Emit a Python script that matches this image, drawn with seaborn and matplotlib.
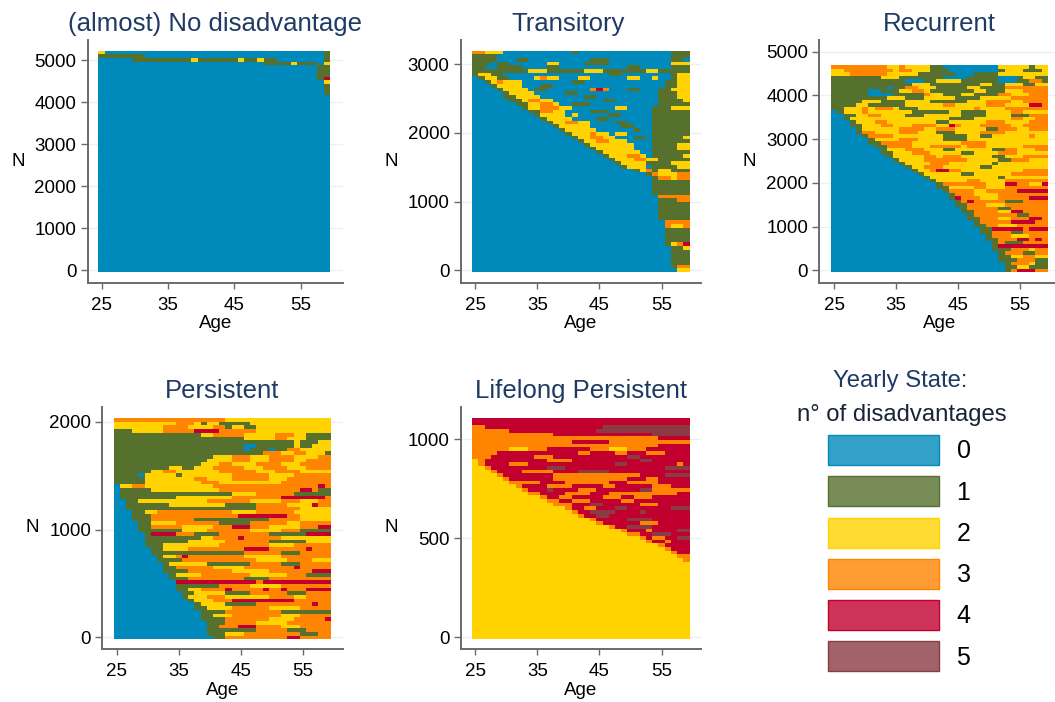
import matplotlib
matplotlib.use("Agg")
import matplotlib.pyplot as plt
from matplotlib.colors import ListedColormap, to_rgba
from matplotlib.patches import Patch
import numpy as np
import seaborn as sns

# each row is one band of sequences, top to bottom: first state, then state@age where it changes
no_disadvantage = [
    "2 0@26 1@59",
    "1 0@32 1@59",
    "0 1@30 2@39 1@40 2@46 1@47 2@49 1@50 0@52 1@59",
    "0 1@50 2@54 1@55 0@58 2@59",
    "0 1@58", "0 1@58", "0 1@58",
    "0 1@58 4@59",
    "0 2@59",
    "0 1@59", "0 1@59", "0 1@59",
] + ["0"] * 48

transitory = [
    "3 2@27 0@30 1@41 0@42 1@57",
    "1 0@29 1@57",
    "1 0@29 1@32 0@34 1@44 0@47 1@57 0@59",
    "1 0@28 1@29 0@31 2@37 0@39 1@43 0@47 2@57",
    "1 0@27 1@29 0@33 1@37 0@39 1@50 0@52 1@57",
    "1 2@34 1@37 2@43 1@46 2@53 1@55",
    "1 2@26 1@28 0@30 1@47 0@49 1@57 2@58",
    "0 1@26 2@27 1@29 0@31 2@35 3@36 2@37 0@39 2@42 0@44 2@50 0@52 2@54 0@55 1@57 2@58",
    "0 1@27 2@28 3@29 2@30 0@33 1@41 0@43 1@56 2@58",
    "0 1@28 2@29 0@33 1@36 0@38 1@56 2@58",
    "0 1@29 2@30 0@34 1@35 0@37 3@44 4@45 3@46 0@47 1@50 0@52 1@55 2@57",
    "0 1@30 2@31 0@35 1@40 0@42 1@55 2@58",
    "0 1@30 2@32 0@36 1@43 0@45 1@55 2@58",
    "0 1@31 2@33 3@34 2@36 0@38 1@46 0@48 1@55 2@59",
    "0 1@32 2@34 3@36 2@38 0@39 1@41 0@44 1@55",
    "0 1@33 2@34 3@36 2@39 0@41 2@48 0@50 1@54 2@57",
    "0 1@34 3@36 2@38 0@40 1@44 0@47 1@54",
    "0 1@35 2@36 0@40 2@41 0@42 1@47 0@49 1@54",
    "0 1@36 2@37 0@41 1@45 0@47 1@54",
    "0 1@37 2@38 3@40 2@42 0@44 1@48 0@50 1@54",
    "0 1@38 2@39 0@44 1@49 0@51 1@54",
    "0 1@39 2@40 0@45 1@51 0@52 1@54",
    "0 1@40 2@41 3@44 2@45 0@47 2@48 0@50 1@54",
    "0 1@41 2@42 3@44 2@46 0@48 1@51 0@53 1@54 2@59",
    "0 1@42 2@43 3@45 2@47 0@50 1@54",
    "0 1@43 2@44 0@51 1@54 2@58",
    "0 1@44 2@45 0@51 1@54 2@58",
    "0 1@45 2@46 0@52 1@54",
    "0 1@46 2@47 3@50 2@52 0@53 1@54 2@59",
    "0 1@47 2@48 3@51 2@53 1@55",
    "0 1@48 2@49 1@53 2@57",
    "0 1@49 2@50 0@53 1@54 2@58",
    "0 1@51 2@52 3@53 1@54 2@55 1@57",
    "0 1@53 3@54 2@55 3@58",
    "0 1@54 3@55 2@57 3@58",
    "0 1@54", "0 1@54", "0 1@54", "0 1@54",
    "0 3@55",
    "0 1@55 3@58",
    "0 1@55", "0 1@55", "0 1@55", "0 1@55", "0 1@55",
    "0 3@56",
    "0 3@56 2@57 3@59",
    "0 1@56", "0 1@56", "0 1@56", "0 1@56",
    "0 1@56 2@57 3@58 4@59",
    "0 1@57 2@59",
    "0 1@57", "0 1@57", "0 1@57", "0 1@57",
    "0 1@57 3@58",
    "0 2@58",
]

recurrent = [
    "3 2@34 3@36 2@37 1@41 0@43 2@52 1@57 2@58",
    "2 3@27 2@35 3@36 2@38 1@41 0@44 1@52 2@53 1@56 2@59",
    "2 3@28 2@34 1@39 0@45 1@48 2@52",
    "1 2@33 1@36 0@43 1@47 0@52 1@55 2@56 1@58",
    "1 0@37 1@40 2@42 1@46 0@52 1@55 3@57 1@59",
    "1 2@38 1@41 2@49 1@51 2@53 1@56 2@58",
    "1 0@34 1@35 3@37 2@39 1@42 2@47 1@49 3@53",
    "1 0@31 1@33 2@36 3@38 2@40 1@41 2@48 1@50 2@53 3@56",
    "1 0@31 1@35 3@40 2@41 1@43 2@46 1@48 3@52 2@54 3@57",
    "1 2@34 1@37 2@40 1@45 2@49 3@54",
    "1 2@30 1@33 2@37 1@41 2@47 3@50 2@54 3@56",
    "1 2@29 1@31 2@37 3@43 2@45 3@50 2@53 4@57 3@59",
    "1 2@27 3@30 2@31 3@32 2@35 1@36 2@39 3@48 2@49 3@53",
    "0 1@26 2@27 3@30 2@31 1@38 2@44 1@46 2@50 3@54 2@56",
    "0 1@27 2@29 3@31 2@33 1@37 2@40 1@46 2@50 1@54 3@57",
    "0 1@27 2@28 1@44 2@48 3@54 2@56 3@58",
    "0 1@28 2@29 3@32 2@34 1@42 2@44 3@50 2@53 3@57",
    "0 1@28 2@30 3@33 2@35 3@38 2@42 4@44 3@45 2@46 3@49 2@54 3@56",
    "0 1@29 2@30 3@36 2@40 3@42 2@45 1@50 3@52 2@55 3@57",
    "0 1@29 3@30 2@32 3@36 2@39 1@42 2@45 3@49 2@53",
    "0 1@30 3@31 2@35 1@43 2@47 1@49 2@51 3@57 2@58",
    "0 1@31 2@32 3@36 2@39 1@43 2@47",
    "0 1@31 3@33 2@38 3@46 2@50",
    "0 1@32 3@34 2@38 3@41 2@46 3@47 2@50 3@56",
    "0 1@33 2@34 3@37 2@40 1@43 2@45 1@51 3@53 2@55 3@58",
    "0 1@33 2@35 3@38 2@41 1@46 2@48 3@52 2@55",
    "0 1@34 2@35 3@40 2@42 3@43 2@46 1@51 2@53 3@56",
    "0 1@35 2@36 3@40 2@47 1@52 3@54 2@57",
    "0 1@36 2@37 3@41 2@44 1@51 2@52",
    "0 1@37 2@38 3@40 2@43 1@49 2@51",
    "0 1@38 2@39 3@41 4@42 3@44 2@46 3@56",
    "0 1@39 2@40 1@46 2@48 3@54",
    "0 1@40 2@41 1@52 2@53",
    "0 1@41 2@42 3@47 2@49 3@53",
    "0 1@42 3@43 2@50 4@53 3@55 2@57 4@59",
    "0 1@42 2@44 3@48 2@50 3@53",
    "0 1@43 3@44 2@48 3@50 4@55",
    "0 1@44 3@45 2@48 3@52",
    "0 1@44 4@45 3@46 2@49 3@52 4@57",
    "0 1@45 3@46 4@47 3@48 1@53 3@56",
    "0 1@45 3@47 2@50 3@53",
    "0 1@46 3@47 1@52 3@54",
    "0 1@46 3@48 2@52 4@54 3@56",
    "0 1@47 3@48 1@55 3@57",
    "0 1@47 3@49 2@52 3@54 4@57 3@59",
    "0 1@48 3@49 4@54 3@58",
    "0 1@48 3@50 2@52 3@55",
    "0 1@49 4@51 3@56 4@57",
    "0 1@49 3@51 1@54 3@56",
    "0 1@50 3@51 2@54 3@57",
    "0 1@50 3@52 4@55 3@57 4@58 3@59",
    "0 1@51 3@52 1@53 3@56",
    "0 1@51 4@52",
    "0 1@51 3@54 2@57 3@58",
    "0 1@52 3@53 1@56 3@58",
    "0 1@52 2@54 3@56 2@58",
    "0 1@52 3@55 1@58",
    "0 1@53 3@54 2@57 1@58",
    "0 1@53 2@55 1@57",
    "0 1@53 3@54 4@55 3@58",
]

persistent = [
    "3 2@43",
    "2 3@35 2@38 1@39 2@40 1@42 2@47",
    "2 3@33 2@37 3@41 1@43 2@44 1@46 2@48",
    "1 2@28 3@33 4@38 3@42 2@48",
    "1 2@39 3@41 2@46 3@51 2@54 1@56",
    "1 2@46 3@51 2@53 1@56",
    "1 2@54 1@55 2@58",
    "1 0@46 1@48 2@54 1@55 2@57",
    "1 0@46 1@47 0@50 1@51 3@53 2@55 2@58",
    "1 3@49 2@52 3@54 2@56 1@59",
    "1 2@41 3@44 2@47 3@50 2@54 3@58",
    "1 2@40 3@44 2@47 3@50 2@54 3@56",
    "1 2@39 3@42 2@44 3@48 2@52 3@55",
    "1 2@34 1@36 2@38 3@41 2@46 3@49 2@53 3@56",
    "1 2@31 3@33 2@35 3@42 2@48 3@51 2@55",
    "1 0@29 2@30 1@35 2@36 3@44 2@50 3@54",
    "1 2@30 3@38 2@40 3@44 2@50 3@53",
    "1 2@30 3@39 2@42 3@52",
    "0 2@26 3@28 2@30 3@41 4@58 3@59",
    "0 1@26 2@31 3@42 4@55 3@57 1@58",
    "0 1@26 2@44 3@48 1@54",
    "0 1@26 2@35 3@44 4@52 3@59",
    "0 1@27 2@29 3@40 2@47 3@52 2@55 3@58",
    "0 1@27 2@34 1@43 3@48 2@53 4@57 3@58",
    "0 1@27 3@48 2@55",
    "0 1@28 2@30 3@32 2@44 3@48 2@54",
    "0 1@28 3@31 4@45 3@53 2@55",
    "0 1@28 3@31 1@38 3@50 2@55",
    "0 1@29 2@31 3@35 1@42 3@47 2@53 3@55",
    "0 1@29 3@31 2@36 3@41 4@44 3@47 2@50 3@55 4@58",
    "0 1@29 2@36 3@40 2@47 3@52 1@55",
    "0 1@30 4@31 3@35 1@38 3@42 1@50 4@56",
    "0 1@30 2@39 3@41 4@45 3@46 2@52",
    "0 1@30 2@37 3@43 1@50 2@56",
    "0 1@30 2@33 3@42 2@50 3@54",
    "0 1@31 2@33 3@37 4@46 3@50 4@56 3@57",
    "0 1@31 3@46 1@52 3@55",
    "0 1@32 2@33 3@35 4@36 3@37 2@46 3@52",
    "0 1@32 3@36 2@48 3@53 2@57",
    "0 1@33 2@34 1@40 3@47 1@52 3@55",
    "0 1@33 3@35 2@41 3@46 4@54 3@55",
    "0 1@33 3@37 2@44 3@50 4@57",
    "0 1@34 2@35 3@39 2@47 3@53 1@56",
    "0 1@34 3@37 1@46 3@50",
    "0 4@35 3@48 4@49",
    "0 1@35 3@42 2@47 3@52",
    "0 1@35 2@37 3@39 4@43 3@44 4@49 3@50 4@52 3@53 4@56",
    "0 1@36 2@38 1@43 3@47 1@53 3@56",
    "0 1@36 2@37 3@40 2@43 3@50 2@54 3@56",
    "0 1@37 2@38 3@41 4@44 3@54",
    "0 1@38 2@39 1@43 3@48 4@57 3@58",
    "0 1@38 2@40 3@44 2@50 3@55",
    "0 1@39 3@43 1@52",
    "0 1@39 2@41 3@44 2@52 3@55",
    "0 1@39 3@43 2@50 3@54 4@59",
    "0 1@40 3@43 2@48 3@53",
    "0 1@40 3@42 4@45 3@48 2@52 3@55",
    "0 1@40 3@48 1@53 3@56",
    "0 1@40 2@43 3@46 1@55 3@58",
    "0 1@41 3@43 4@53 3@55",
]

lifelong = [
    "4",
    "4",
    "3 4@27 5@46",
    "3 4@31 5@45",
    "3 4@38 5@54",
    "3 4@55",
    "3 4@41 3@47",
    "3 4@55",
    "3 2@31 3@34 4@37 3@44 2@47 3@50 4@53",
    "3 4@29 3@42 4@44 3@48 4@50 3@53 4@56",
    "3 4@28 3@35 4@38 5@50 4@52",
    "2 3@26 4@27 3@37 4@41 5@52 4@54",
    "2 3@26 4@27 3@31 4@34 5@48 4@50 3@58 4@59",
    "2 3@27 4@28 5@37 4@40 5@56",
    "2 3@28 4@29 3@33 4@38 5@42 4@47",
    "2 3@29 4@30 3@38 4@52 5@56",
    "2 3@30 4@31 3@38 4@50 3@53 4@55",
    "2 3@31 3@33 4@36 3@40 4@47 3@50 4@55",
    "2 3@32 4@33 3@37 4@41 3@46 4@48 3@54 4@57",
    "2 3@33 4@34 5@37 4@38 3@42 4@45 5@52 3@54",
    "2 3@34 4@36 3@40 4@44 3@47 4@58",
    "2 3@36 4@37 3@39 4@41 3@46 4@49 3@51 4@54",
    "2 3@37 4@39 3@41 4@44 3@49 4@51",
    "2 3@38 3@39 4@41 5@44 4@46 3@52 4@55",
    "2 3@40 4@41 3@43 4@45 5@48 4@50 5@57",
    "2 3@41 4@42 5@44 4@48 5@52 4@53",
    "2 3@42 4@43 5@45 4@47",
    "2 3@44 4@45 5@50 4@54",
    "2 3@45 4@46 4@48 3@52 4@55",
    "2 3@47 4@48 5@50 4@54",
    "2 3@49 4@50 3@53 4@54 5@58",
    "2 3@50 3@51 4@52 5@54 4@57",
    "2 3@52 4@53 3@54 4@56 5@58",
    "2 3@53 4@54 3@56 4@57",
    "2 3@55 4@56",
    "2 3@56 4@57",
    "2 3@57 4@58",
    "2 3@58",
    "2 3@59",
] + ["2"] * 21

panel_titles = ["(almost) No disadvantage", "Transitory", "Recurrent", "Persistent", "Lifelong Persistent"]
panel_rows = [no_disadvantage, transitory, recurrent, persistent, lifelong]
n_range = [(-40, 5221), (-25, 3197), (-39, 4689), (-19, 2034), (-10, 1108)]
n_ticks = [
    [0, 1000, 2000, 3000, 4000, 5000],
    [0, 1000, 2000, 3000],
    [0, 1000, 2000, 3000, 4000, 5000],
    [0, 1000, 2000],
    [0, 500, 1000],
]
age_ticks = [25, 35, 45, 55]
first_age = 25
last_age = 59
state_labels = ["0", "1", "2", "3", "4", "5"]

state_colors = ["#008abb", "#56702e", "#ffd200", "#ff8400", "#c2002f", "#8a3c44"]
title_color = "#1f3a63"
spine_color = "#6a6a6a"

# pixel boxes of the axes, and what the axes ends mean in ages / N
W, H = 1055, 702
boxes = [
    (87.5, 40, 343, 283),
    (460.7, 40, 700.7, 283),
    (819.3, 40, 1060, 283),
    (102.3, 407.3, 342.7, 649.3),
    (460.7, 407.3, 700.7, 649.3),
]
age_lims = [(22.86, 61.4), (22.65, 61.3), (22.58, 61.46), (22.68, 61.4), (22.65, 61.3)]
n_lims = [(-302, 5476), (-185, 3352), (-290, 5268), (-111, 2134), (-61, 1162)]
n_label_px = [(18, 161), (391, 161), (749, 161), (32, 527), (391, 527)]
title_px = [(215, 24), (568, 24), (939, 24), (222, 391), (581, 391)]


def expand(spec):
    parts = spec.split()
    row = [int(parts[0])] * (last_age - first_age + 1)
    for part in parts[1:]:
        state, age = part.split("@")
        for i in range(int(age) - first_age, len(row)):
            row[i] = int(state)
    return row


def draw_panel(fig, i):
    x0, y0, x1, y1 = boxes[i]
    ax = fig.add_axes([x0 / W, 1 - y1 / H, (x1 - x0) / W, (y1 - y0) / H])
    mat = np.array([expand(r) for r in panel_rows[i]])
    nrows = mat.shape[0]
    sns.heatmap(mat, ax=ax, cmap=ListedColormap(state_colors), vmin=-0.5, vmax=5.5,
                cbar=False, xticklabels=False, yticklabels=False)

    lo, hi = n_range[i]

    def n_to_row(n):
        return nrows * (hi - n) / (hi - lo)

    def age_to_col(a):
        return a - first_age + 0.5

    ax.set_xlim(age_to_col(age_lims[i][0]), age_to_col(age_lims[i][1]))
    ax.set_ylim(n_to_row(n_lims[i][0]), n_to_row(n_lims[i][1]))
    ax.set_xticks([age_to_col(a) for a in age_ticks], labels=age_ticks)
    ax.set_yticks([n_to_row(n) for n in n_ticks[i]], labels=n_ticks[i], rotation=0)
    ax.tick_params(axis="x", length=4, width=1, color=spine_color, labelsize=13.5, pad=6, labelrotation=0)
    ax.tick_params(axis="y", length=5, width=1, color=spine_color, labelsize=13.5, pad=3)
    ax.set_axisbelow(True)
    ax.grid(axis="y", color="#e8f1f3", linewidth=1)

    for side in ["left", "bottom"]:
        ax.spines[side].set_visible(True)
        ax.spines[side].set_color(spine_color)
        ax.spines[side].set_linewidth(1.4)

    ax.set_xlabel("Age", fontsize=13.5, labelpad=1)
    ax.set_ylabel("")
    nx, ny = n_label_px[i]
    fig.text(nx / W, 1 - ny / H, "N", fontsize=13.5, ha="center", va="center")
    tx, ty = title_px[i]
    fig.text(tx / W, 1 - ty / H, panel_titles[i], fontsize=18.5, color=title_color,
             ha="center", va="center")


sns.set_style("ticks")
plt.rcParams["font.family"] = ["Liberation Sans", "DejaVu Sans"]
plt.rcParams["text.color"] = "black"
plt.rcParams["axes.labelcolor"] = "black"
plt.rcParams["xtick.labelcolor"] = "black"
plt.rcParams["ytick.labelcolor"] = "black"

fig = plt.figure(figsize=(W / 100, H / 100), dpi=100)
for i in range(len(panel_rows)):
    draw_panel(fig, i)

handles = [Patch(facecolor=to_rgba(c, 0.8), edgecolor=c, linewidth=1) for c in state_colors]
fig.legend(handles, state_labels, loc="upper left", bbox_to_anchor=(828 / W, 1 - 435 / H),
           frameon=False, fontsize=18, handlelength=4.44, handleheight=1.47,
           labelspacing=0.45, handletextpad=0.7, borderpad=0, borderaxespad=0)
fig.text(900 / W, 1 - 381 / H, "Yearly State:", fontsize=17.2, color=title_color, ha="center", va="center")
fig.text(901.7 / W, 1 - 415 / H, "n° of disadvantages", fontsize=17.2, color="#1a2238", ha="center", va="center")

fig.savefig("out.png", dpi=100)
